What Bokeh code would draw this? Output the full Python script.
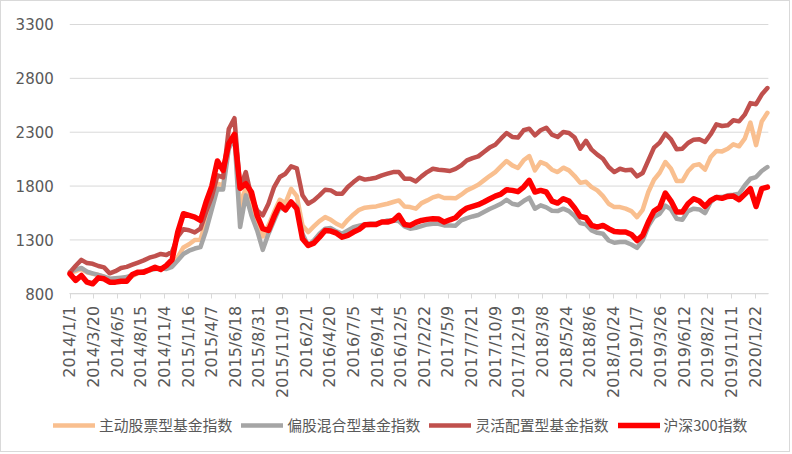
import numpy as np
from bokeh.plotting import figure
from bokeh.models import Range1d, FixedTicker, Legend, LegendItem
from bokeh.embed import file_html
from bokeh.resources import INLINE

# trading-day index of each sample (every 12 trading days from 2014/1/2)
trading_day = list(range(0, 1477, 12))

# x-axis category labels (one every 50 trading days)
label_day = [50 * k for k in range(30)]
date_labels = ["2014/1/1", "2014/3/20", "2014/6/5", "2014/8/15", "2014/11/4",
               "2015/1/16", "2015/4/7", "2015/6/18", "2015/8/31", "2015/11/19",
               "2016/2/1", "2016/4/20", "2016/7/5", "2016/9/14", "2016/12/5",
               "2017/2/22", "2017/5/9", "2017/7/21", "2017/10/9", "2017/12/19",
               "2018/3/8", "2018/5/24", "2018/8/6", "2018/10/24", "2019/1/7",
               "2019/3/26", "2019/6/12", "2019/8/22", "2019/11/11", "2020/1/22"]

y_ticks = [800, 1300, 1800, 2300, 2800, 3300]

series_names = ["主动股票型基金指数", "偏股混合型基金指数", "灵活配置型基金指数", "沪深300指数"]

active_equity = [1000, 1010, 1030, 1000, 985, 975, 960, 920, 925, 925,
                 930, 965, 990, 1000, 1015, 1035, 1040, 1040, 1060, 1140,
                 1230, 1260, 1300, 1302, 1481, 1636, 1822, 1806, 2194, 2290,
                 1600, 1791, 1590, 1466, 1333, 1435, 1559, 1673, 1642, 1775,
                 1707, 1435, 1373, 1425, 1475, 1512, 1487, 1450, 1425, 1487,
                 1537, 1580, 1599, 1605, 1611, 1624, 1636, 1652, 1667, 1611,
                 1605, 1590, 1642, 1667, 1695, 1710, 1689, 1689, 1686, 1720,
                 1760, 1785, 1813, 1853, 1893, 1930, 1983, 2033, 1992, 1968,
                 2039, 2079, 1946, 2023, 2002, 1952, 1930, 1971, 1946, 1893,
                 1830, 1840, 1790, 1760, 1707, 1636, 1605, 1605, 1590, 1568,
                 1512, 1580, 1745, 1859, 1924, 2023, 1961, 1847, 1847, 1937,
                 1992, 2002, 1952, 2070, 2126, 2122, 2147, 2188, 2169, 2240,
                 2390, 2180, 2400, 2480]

partial_equity = [1000, 1025, 1040, 1005, 990, 975, 960, 940, 945, 950,
                  955, 975, 995, 1010, 1020, 1030, 1035, 1030, 1050, 1110,
                  1170, 1200, 1220, 1233, 1388, 1580, 1775, 1769, 2147, 2260,
                  1420, 1714, 1528, 1388, 1208, 1357, 1481, 1605, 1574, 1652,
                  1611, 1357, 1249, 1295, 1357, 1404, 1410, 1379, 1357, 1388,
                  1419, 1432, 1444, 1450, 1453, 1466, 1481, 1481, 1475, 1425,
                  1404, 1413, 1429, 1444, 1450, 1450, 1435, 1435, 1432, 1481,
                  1503, 1518, 1531, 1559, 1587, 1611, 1636, 1673, 1636, 1624,
                  1661, 1692, 1590, 1621, 1602, 1571, 1568, 1590, 1568, 1521,
                  1456, 1444, 1388, 1366, 1357, 1295, 1274, 1280, 1280, 1258,
                  1227, 1295, 1428, 1512, 1543, 1618, 1583, 1497, 1487, 1568,
                  1590, 1583, 1549, 1652, 1698, 1698, 1714, 1720, 1729, 1806,
                  1868, 1884, 1940, 1977]

flexible_alloc = [1000, 1060, 1115, 1085, 1078, 1058, 1045, 990, 1010, 1040,
                  1050, 1070, 1090, 1110, 1135, 1150, 1170, 1160, 1190, 1330,
                  1400, 1390, 1370, 1404, 1560, 1700, 1899, 1880, 2330, 2430,
                  1780, 1930, 1698, 1574, 1528, 1636, 1791, 1884, 1915, 1983,
                  1965, 1714, 1636, 1667, 1714, 1766, 1760, 1729, 1729, 1791,
                  1837, 1878, 1860, 1868, 1878, 1899, 1915, 1930, 1930, 1868,
                  1868, 1843, 1890, 1930, 1961, 1952, 1946, 1940, 1960, 1992,
                  2039, 2060, 2076, 2116, 2157, 2184, 2240, 2293, 2256, 2250,
                  2318, 2333, 2271, 2318, 2342, 2277, 2256, 2302, 2293, 2250,
                  2147, 2220, 2138, 2092, 2054, 1977, 1930, 1961, 1946, 1952,
                  1890, 1921, 2039, 2157, 2203, 2287, 2234, 2141, 2147, 2200,
                  2231, 2234, 2209, 2281, 2373, 2358, 2364, 2411, 2401, 2463,
                  2570, 2560, 2650, 2710]

csi300 = [985, 924, 970, 908, 893, 948, 939, 908, 908, 917,
          917, 979, 1001, 1001, 1023, 1047, 1026, 1063, 1116, 1373,
          1543, 1528, 1512, 1481, 1652, 1797, 2033, 1946, 2194, 2280,
          1780, 1822, 1745, 1528, 1404, 1388, 1518, 1630, 1580, 1652,
          1590, 1311, 1249, 1270, 1326, 1388, 1382, 1363, 1326, 1342,
          1373, 1398, 1441, 1444, 1444, 1466, 1466, 1481, 1528, 1444,
          1435, 1463, 1481, 1491, 1497, 1494, 1466, 1487, 1506, 1559,
          1596, 1611, 1627, 1652, 1680, 1707, 1726, 1766, 1760, 1748,
          1791, 1853, 1745, 1760, 1745, 1661, 1642, 1683, 1661, 1596,
          1518, 1506, 1435, 1419, 1435, 1404, 1379, 1373, 1373, 1351,
          1295, 1342, 1466, 1568, 1602, 1735, 1661, 1559, 1559, 1636,
          1683, 1661, 1611, 1667, 1695, 1686, 1704, 1707, 1673, 1723,
          1776, 1610, 1776, 1790]

colors = ["#F9BF8F", "#A5A5A5", "#C0504D", "#FF0000"]
widths = [4.5, 4.5, 4.5, 5.5]

# plot-area extent in trading days (category axis spans a little past the data)
x_first, x_last = -0.5, 1478

p = figure(width=790, height=452, output_backend="svg", toolbar_location=None,
           x_range=Range1d(-145.0, 1527.0), y_range=Range1d(-682.6, 3513.5),
           min_border_left=0, min_border_right=0, min_border_top=0,
           min_border_bottom=0)
p.styles = {"border": "1px solid #D9D9D9"}
p.background_fill_color = "white"
p.border_fill_color = "white"
p.outline_line_color = None
p.xgrid.visible = False
p.ygrid.visible = False

# horizontal gridlines across the plot area only
p.segment(x0=[x_first] * len(y_ticks), y0=y_ticks,
          x1=[x_last] * len(y_ticks), y1=y_ticks,
          line_color="#D9D9D9", line_width=1)

renderers = []
for ys, c, w in zip([active_equity, partial_equity, flexible_alloc, csi300], colors, widths):
    r = p.line(trading_day, ys, line_color=c, line_width=w,
               line_join="round", line_cap="round")
    renderers.append(r)

xa = p.xaxis[0]
xa.fixed_location = y_ticks[0]
xa.bounds = (x_first, x_last)
xa.ticker = FixedTicker(ticks=label_day)
xa.major_label_overrides = {d: s for d, s in zip(label_day, date_labels)}
xa.major_label_orientation = np.pi / 2
xa.axis_line_color = "#D9D9D9"
xa.major_tick_line_color = "#D9D9D9"
xa.major_tick_out = 5
xa.major_tick_in = 0
xa.minor_tick_line_color = None
xa.major_label_text_font = "DejaVu Sans"
xa.major_label_text_font_size = "16px"
xa.major_label_text_color = "#595959"
xa.major_label_standoff = 7

ya = p.yaxis[0]
ya.fixed_location = x_first
ya.bounds = (y_ticks[0], y_ticks[-1])
ya.ticker = FixedTicker(ticks=y_ticks)
ya.axis_line_color = None
ya.major_tick_line_color = None
ya.major_tick_out = 0
ya.major_tick_in = 0
ya.minor_tick_line_color = None
ya.major_label_text_font = "DejaVu Sans"
ya.major_label_text_font_size = "15px"
ya.major_label_text_color = "#595959"
ya.major_label_standoff = 16

items = [LegendItem(label=n, renderers=[r]) for n, r in zip(series_names, renderers)]
legend = Legend(items=items, orientation="horizontal", location=(52, 18),
                label_text_font="Noto Sans CJK SC", label_text_font_size="14.8px",
                label_text_color="#595959", glyph_width=42, glyph_height=20,
                label_height=20, spacing=9, padding=0, margin=0, label_standoff=4,
                border_line_alpha=0, background_fill_alpha=0)
p.add_layout(legend)

open("out.html", "w").write(file_html(p, INLINE))
